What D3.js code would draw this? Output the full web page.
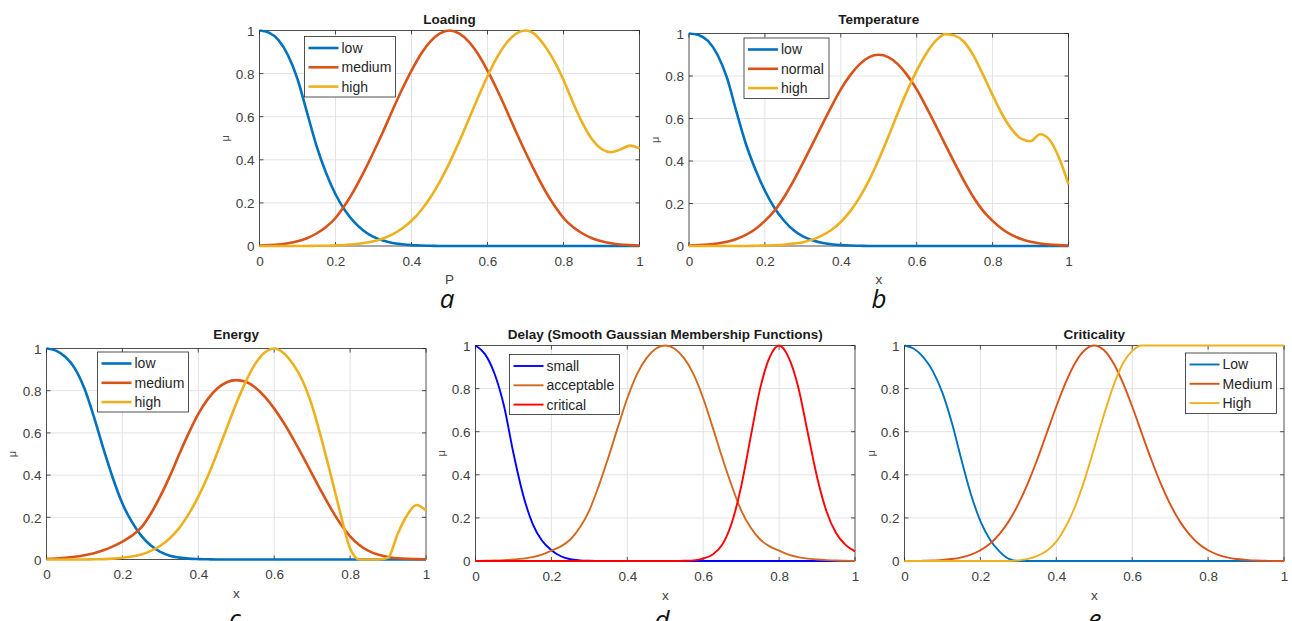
<!DOCTYPE html>
<html><head><meta charset="utf-8">
<script src="https://cdn.jsdelivr.net/npm/d3@7"></script>
<style>
body{margin:0;background:#fff}
svg{display:block}
text{font-family:"Liberation Sans",Arial,Helvetica,sans-serif}
</style>
</head><body>
<svg id="chart" width="1292" height="621"></svg>
<script>
// ---------- data ----------
const xs = [0,0.025,0.05,0.075,0.1,0.125,0.15,0.175,0.2,0.225,0.25,0.275,0.3,0.325,0.35,0.375,0.4,0.425,0.45,0.475,0.5,
            0.525,0.55,0.575,0.6,0.625,0.65,0.675,0.7,0.725,0.75,0.775,0.8,0.825,0.85,0.875,0.9,0.925,0.95,0.975,1];
const tickValues = [0,0.2,0.4,0.6,0.8,1];
const tickLabels = ["0","0.2","0.4","0.6","0.8","1"];

// a: Loading
const loadingLow  = [1,.99,.955,.885,.775,.62,.465,.34,.24,.165,.11,.07,.042,.025,.014,.008,.004,.002,.001,0,0,0,0,0,0,0,0,0,0,0,0,0,0,0,0,0,0,0,0,0,0];
const loadingMed  = [.002,.004,.007,.013,.022,.036,.058,.088,.130,.190,.262,.345,.435,.530,.630,.726,.814,.891,.950,.987,1,.987,.950,.891,.814,.726,.630,.530,.435,.345,.262,.190,.130,.088,.058,.036,.022,.013,.007,.004,.002];
const loadingHigh = [0,0,0,0,0,0,.001,.001,.003,.005,.008,.014,.022,.035,.054,.081,.117,.165,.226,.300,.386,.482,.585,.689,.788,.875,.942,.985,1,.982,.93,.86,.77,.665,.57,.495,.45,.435,.448,.466,.453];

// b: Temperature
const tempLow    = [1,.993,.965,.9,.792,.632,.48,.36,.26,.18,.12,.075,.045,.027,.015,.008,.004,.002,.001,0,0,0,0,0,0,0,0,0,0,0,0,0,0,0,0,0,0,0,0,0,0];
const tempNormal = [.002,.004,.007,.012,.020,.033,.052,.080,.118,.165,.228,.305,.39,.478,.568,.655,.737,.804,.856,.889,.9,.889,.856,.804,.737,.655,.568,.478,.39,.305,.228,.165,.118,.080,.052,.033,.020,.012,.007,.004,.002];
const tempHigh   = [0,0,0,0,0,0,0,.001,.002,.003,.006,.011,.018,.030,.049,.075,.113,.164,.230,.311,.407,.513,.625,.73,.825,.905,.965,.997,.99,.96,.895,.805,.71,.62,.55,.505,.493,.526,.50,.415,.29];

// c: Energy
const energyLow  = [1,.99,.96,.905,.81,.676,.525,.385,.265,.178,.112,.066,.036,.018,.009,.004,.002,.001,0,0,0,0,0,0,0,0,0,0,0,0,0,0,0,0,0,0,0,0,0,0,0];
const energyMed  = [.003,.005,.008,.013,.02,.03,.044,.062,.085,.113,.152,.218,.30,.395,.50,.60,.69,.76,.81,.84,.85,.842,.815,.772,.715,.648,.572,.49,.405,.32,.24,.168,.11,.068,.04,.022,.012,.006,.003,.002,.001];
const energyHigh = [0,0,0,0,0,.001,.002,.004,.008,.014,.024,.041,.065,.101,.150,.216,.298,.395,.506,.623,.739,.843,.927,.981,1,.978,.925,.846,.727,.568,.394,.215,.052,0,0,0,.008,.12,.21,.258,.232];

// d: Delay
const delaySmall      = [1,.96,.87,.72,.50,.31,.175,.095,.05,.022,.008,.003,.001,0,0,0,0,0,0,0,0,0,0,0,0,0,0,0,0,0,0,0,0,0,0,0,0,0,0,0,0];
const delayAcceptable = [0,.001,.002,.004,.007,.011,.018,.03,.048,.068,.10,.155,.235,.35,.48,.62,.755,.865,.94,.985,1,.985,.94,.865,.755,.62,.48,.35,.235,.155,.10,.068,.048,.03,.018,.011,.007,.004,.002,.001,0];
const delayCritical   = [0,0,0,0,0,0,0,0,0,0,0,0,0,0,0,0,0,0,0,0,0,0,.001,.003,.011,.03,.075,.175,.345,.575,.80,.945,1,.945,.81,.60,.39,.23,.13,.075,.045];

// e: Criticality
const critLow    = [1,.985,.945,.88,.78,.64,.47,.31,.185,.10,.045,.01,0,0,0,0,0,0,0,0,0,0,0,0,0,0,0,0,0,0,0,0,0,0,0,0,0,0,0,0,0];
const critMedium = [0,0,.001,.002,.005,.009,.017,.030,.050,.080,.125,.185,.264,.360,.472,.594,.717,.829,.920,.979,1,.979,.920,.829,.717,.594,.472,.360,.264,.185,.125,.080,.050,.030,.017,.009,.005,.002,.001,0,0];
const critHigh   = [0,0,0,0,0,0,0,0,0,0,0,0,.003,.01,.024,.048,.09,.16,.255,.38,.525,.675,.81,.915,.975,1,1,1,1,1,1,1,1,1,1,1,1,1,1,1,1];

const titles  = ["Loading","Temperature","Energy","Delay (Smooth Gaussian Membership Functions)","Criticality"];
const xLabels = ["P","x","x","x","x"];
const letters = ["a","b","c","d","e"];
const legendNames = [["low","medium","high"],["low","normal","high"],["low","medium","high"],["small","acceptable","critical"],["Low","Medium","High"]];
const seriesSets = [
  [loadingLow, loadingMed, loadingHigh],
  [tempLow, tempNormal, tempHigh],
  [energyLow, energyMed, energyHigh],
  [delaySmall, delayAcceptable, delayCritical],
  [critLow, critMedium, critHigh]
];

// ---------- styles / layout ----------
const matlab = ["#0072BD","#D95319","#EDB120"];
const palettes = [matlab, matlab, matlab, ["#0000FF","#D2691E","#FF0000"], matlab];
const layouts = [
  {x0:259.5, x1:639.5, y0:30.5, y1:246, lw:2.6, leg:[304.5,36.5,91,60.5], titleY:24, xlabY:283.5, ylabX:225, letterX:447, letterY:308},
  {x0:689,   x1:1068.5,y0:33.5, y1:246, lw:2.6, leg:[744,38,85,60.5],     titleY:24, xlabY:283.5, ylabX:655, letterX:879, letterY:308},
  {x0:46.5,  x1:426,   y0:348.5,y1:559.5,lw:2.6, leg:[97.5,352,91,60],    titleY:339, xlabY:598, ylabX:12, letterX:235, letterY:628},
  {x0:475.5, x1:855,   y0:345.5,y1:561, lw:1.9, leg:[509.5,354.5,110,60], titleY:339, xlabY:599.5, ylabX:441.5, letterX:662, letterY:629},
  {x0:904.5, x1:1284,  y0:345.5,y1:561, lw:1.9, leg:[1185.5,353,91,60.5], titleY:339, xlabY:599.5, ylabX:871, letterX:1095, letterY:628}
];

const svg = d3.select("#chart");
svg.append("rect").attr("width",1292).attr("height",621).attr("fill","#fff");

layouts.forEach((L, p) => {
  const g = svg.append("g");
  const x = d3.scaleLinear().domain([0,1]).range([L.x0, L.x1]);
  const y = d3.scaleLinear().domain([0,1]).range([L.y1, L.y0]);

  // grid
  g.append("g").selectAll("line").data(tickValues.slice(1,-1)).join("line")
    .attr("x1", d=>x(d)).attr("x2", d=>x(d)).attr("y1", L.y0).attr("y2", L.y1)
    .attr("stroke","#e3e3e3").attr("stroke-width",1);
  g.append("g").selectAll("line").data(tickValues.slice(1,-1)).join("line")
    .attr("y1", d=>y(d)).attr("y2", d=>y(d)).attr("x1", L.x0).attr("x2", L.x1)
    .attr("stroke","#e3e3e3").attr("stroke-width",1);

  // axes via d3.axis (labels), box drawn separately
  const xAxis = d3.axisBottom(x).tickValues(tickValues).tickFormat((d,i)=>tickLabels[i]).tickSize(0).tickPadding(0);
  const ax = g.append("g").attr("transform",`translate(0,${L.y1})`).call(xAxis);
  ax.select(".domain").remove();
  ax.selectAll("text").attr("y",19.5).attr("dy",0).attr("font-size",13.5).attr("fill","#404040")
    .style("font-family",'"Liberation Sans",Arial,sans-serif');
  const yAxis = d3.axisLeft(y).tickValues(tickValues).tickFormat((d,i)=>tickLabels[i]).tickSize(0).tickPadding(5);
  const ay = g.append("g").attr("transform",`translate(${L.x0},0)`).call(yAxis);
  ay.select(".domain").remove();
  ay.selectAll("text").attr("font-size",13.5).attr("fill","#404040").attr("dy","0.36em")
    .style("font-family",'"Liberation Sans",Arial,sans-serif');

  // inward ticks on all four sides
  const tk = 4;
  const tg = g.append("g").attr("stroke","#262626").attr("stroke-width",0.8);
  tickValues.forEach(v => {
    tg.append("line").attr("x1",x(v)).attr("x2",x(v)).attr("y1",L.y1).attr("y2",L.y1-tk);
    tg.append("line").attr("x1",x(v)).attr("x2",x(v)).attr("y1",L.y0).attr("y2",L.y0+tk);
    tg.append("line").attr("y1",y(v)).attr("y2",y(v)).attr("x1",L.x0).attr("x2",L.x0+tk);
    tg.append("line").attr("y1",y(v)).attr("y2",y(v)).attr("x1",L.x1).attr("x2",L.x1-tk);
  });
  g.append("rect").attr("x",L.x0).attr("y",L.y0).attr("width",L.x1-L.x0).attr("height",L.y1-L.y0)
    .attr("fill","none").attr("stroke","#262626").attr("stroke-width",0.8);

  // curves
  const line = d3.line().x((d,i)=>x(xs[i])).y(d=>y(d)).curve(d3.curveMonotoneX);
  seriesSets[p].forEach((s, k) => {
    g.append("path").datum(s).attr("d", line).attr("fill","none")
      .attr("stroke", palettes[p][k]).attr("stroke-width", L.lw).attr("stroke-linejoin","round");
  });

  // title
  g.append("text").attr("x",(L.x0+L.x1)/2).attr("y",L.titleY).attr("text-anchor","middle")
    .attr("font-size",13.5).attr("font-weight","bold").attr("fill","#1a1a1a").text(titles[p]);
  // x label
  g.append("text").attr("x",(L.x0+L.x1)/2).attr("y",L.xlabY).attr("text-anchor","middle")
    .attr("font-size",13.5).attr("fill","#404040").text(xLabels[p]);
  // y label
  const cy = (L.y0+L.y1)/2;
  g.append("text").attr("transform",`translate(${L.ylabX},${cy}) rotate(-90)`).attr("text-anchor","middle")
    .attr("dy","0.35em").attr("font-size",11).attr("fill","#505050").text("μ");
  // subfigure letter
  g.append("text").attr("x",L.letterX).attr("y",L.letterY).attr("text-anchor","middle")
    .attr("font-size",26).attr("font-style","italic").attr("fill","#111")
    .style("font-family",'"Open Sans",sans-serif').text(letters[p]);

  // legend
  const [lx,ly,lw,lh] = L.leg;
  const lg = g.append("g");
  lg.append("rect").attr("x",lx).attr("y",ly).attr("width",lw).attr("height",lh)
    .attr("fill","#fff").attr("stroke","#262626").attr("stroke-width",0.8);
  legendNames[p].forEach((name,k) => {
    const ry = ly + 11.5 + 19.3*k;
    lg.append("line").attr("x1",lx+4).attr("x2",lx+34).attr("y1",ry).attr("y2",ry)
      .attr("stroke",palettes[p][k]).attr("stroke-width",L.lw);
    lg.append("text").attr("x",lx+37).attr("y",ry).attr("dy","0.35em")
      .attr("font-size",14).attr("fill","#262626").text(name);
  });
});
</script>
</body></html>
